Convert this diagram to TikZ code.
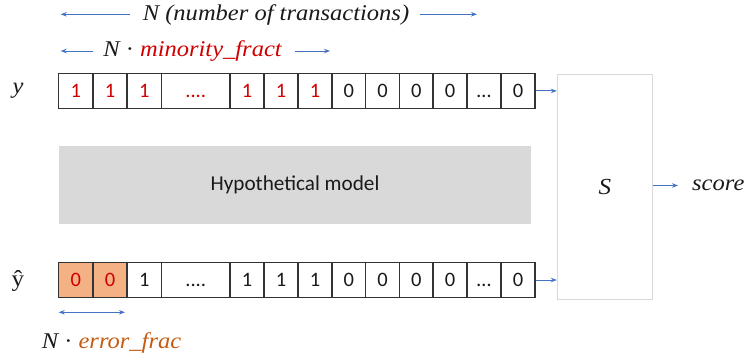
\documentclass[tikz,border=0pt]{standalone}
\usepackage{fontspec}
\setmainfont{Carlito}
\newfontfamily\cam[FakeStretch=1.09]{Liberation Serif}
\usetikzlibrary{arrows.meta}
\definecolor{cred}{HTML}{D00000}
\definecolor{corng}{HTML}{C55A11}
\definecolor{cfill}{HTML}{F4B183}
\definecolor{cblue}{HTML}{4472C4}
\definecolor{cgray}{HTML}{D9D9D9}
\definecolor{cline}{HTML}{333333}
\definecolor{ctext}{HTML}{1A1A1A}
\newcommand\fourdt{....}
\newcommand\ellip{…}
\tikzset{
  cell/.style={draw=cline, line width=1.2pt, inner sep=0pt, minimum height=35pt, text height=13pt, text depth=0pt, font=\fontsize{20.5}{22}\selectfont},
  arr/.style={cblue, line width=0.9pt, -{Stealth[length=6pt,width=4.5pt]}},
  darr/.style={cblue, line width=0.9pt, {Stealth[length=6pt,width=4.5pt]}-{Stealth[length=6pt,width=4.5pt]}},
  itxt/.style={font=\cam\itshape\fontsize{22.5}{24}\selectfont, inner sep=0pt, text=ctext},
}
\begin{document}
\begin{tikzpicture}[x=1pt,y=-1pt]
\useasboundingbox (0,0) rectangle (745,358);
% top labels
\node[itxt] (ntx) at (276,15) {N (number of transactions)};
\coordinate (ntxL) at (60.7,14.3);
\coordinate (ntxR) at (477,14.3);
\draw[arr] ([xshift=-13pt]ntx.west |- ntxL) -- (ntxL);
\draw[arr] ([xshift=11pt]ntx.east |- ntxR) -- (ntxR);
\node[itxt] (nmf) at (192.5,51) {N {\upshape·} \textcolor{cred}{minority\_fract}};
\coordinate (nmfL) at (60.7,51);
\coordinate (nmfR) at (330,51);
\draw[arr] ([xshift=-10pt]nmf.west |- nmfL) -- (nmfL);
\draw[arr] ([xshift=13pt]nmf.east |- nmfR) -- (nmfR);
% row labels
\node[itxt] (ylab) at (18,91) {y};
\node[font=\cam\fontsize{23}{24}\selectfont, text=ctext, inner sep=0pt] (yhat) at (18,281) {ŷ};
% top row
\foreach \l/\r/\t/\c [count=\i] in {58.5/93/1/cred,93/127/1/cred,127/161.5/1/cred,161.5/230/\fourdt/cred,230/264/1/cred,264/298/1/cred,298/332/1/cred,332/365.5/0/ctext,365.5/399.5/0/ctext,399.5/433/0/ctext,433/467/0/ctext,467/501/\ellip/ctext,501/535/0/ctext}{
  \pgfmathsetmacro\w{\r-\l}
  \node[cell, minimum width=\w pt, text=\c] (t\i) at ({(\l+\r)/2},90.9) {\t};
}
% bottom row
\foreach \l/\r/\t/\c/\f [count=\i] in {58.5/93/0/cred/cfill,93/127/0/cred/cfill,127/161.5/1/ctext/white,161.5/230/\fourdt/ctext/white,230/264/1/ctext/white,264/298/1/ctext/white,298/332/1/ctext/white,332/365.5/0/ctext/white,365.5/399.5/0/ctext/white,399.5/433/0/ctext/white,433/467/0/ctext/white,467/501/\ellip/ctext/white,501/535/0/ctext/white}{
  \pgfmathsetmacro\w{\r-\l}
  \node[cell, minimum width=\w pt, text=\c, fill=\f] (b\i) at ({(\l+\r)/2},280) {\t};
}
% model box
\node[fill=cgray, minimum width=471.4pt, minimum height=78.6pt, inner sep=0pt, font=\fontsize{21.2}{23}\selectfont, text=ctext] (model) at (295,185) {Hypothetical model};
% S box
\node[draw=cgray, line width=1pt, minimum width=95pt, minimum height=225pt, inner sep=0pt, font=\cam\itshape\fontsize{23}{24}\selectfont, text=ctext] (S) at (604.8,186.8) {S};
\draw[arr] (t13.east) -- (S.west |- t13.east);
\draw[arr] (b13.east) -- (S.west |- b13.east);
\node[itxt, anchor=west] (score) at (692,185.5) {score};
\draw[arr] (S.east |- score.west) -- ([xshift=-14pt]score.west);
% error frac
\coordinate (efL) at (58.7,312.3);
\coordinate (efR) at (125,312.3);
\draw[darr] (efL) -- (efR);
\node[itxt] (ef) at (111.5,343) {N {\upshape·} \textcolor{corng}{error\_frac}};
\end{tikzpicture}
\end{document}
